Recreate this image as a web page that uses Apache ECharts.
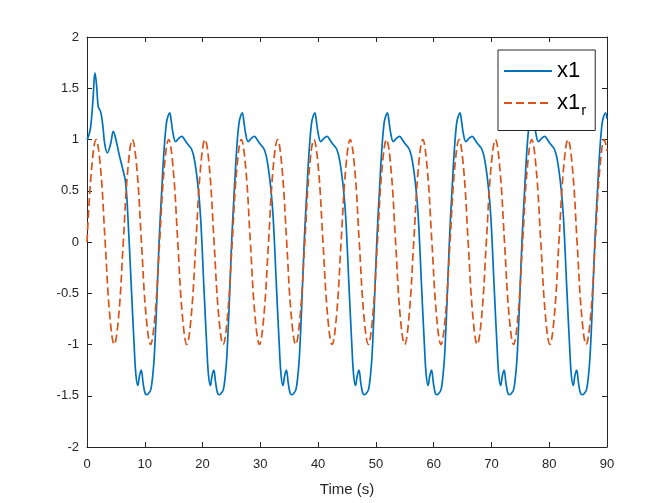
<!DOCTYPE html>
<html>
<head>
<meta charset="utf-8">
<script src="https://cdn.jsdelivr.net/npm/echarts@6/dist/echarts.min.js"></script>
<style>
  html, body { margin: 0; padding: 0; background: #fff; }
  #chart { width: 671px; height: 503px; }
</style>
</head>
<body>
<div id="chart"></div>
<script>
// x1: time (s) and value (transient, then one line per cycle)
const x1Time = [
  0, 0.3, 0.63, 1.04, 1.38, 1.67, 1.95, 2.37, 2.77, 3.06, 3.52, 4.1, 4.56, 4.96, 5.54, 6.1, 6.68, 7.1, 7.68, 8.17, 8.47, 8.8, 9.07, 9.38, 9.72, 10.02,
  10.28, 10.68, 11.04, 11.38, 11.64, 12.04, 12.49, 12.94, 13.34, 13.74, 14.03, 14.31, 14.58, 14.89, 15.34, 15.88, 16.39, 16.88, 17.34, 18.14, 18.69, 19.24, 19.66, 20.24, 20.73, 21.03, 21.36, 21.63, 21.94, 22.28, 22.58,
  22.84, 23.24, 23.6, 23.94, 24.2, 24.6, 25.05, 25.5, 25.9, 26.3, 26.59, 26.87, 27.14, 27.45, 27.9, 28.44, 28.95, 29.44, 29.9, 30.7, 31.25, 31.8, 32.22, 32.8, 33.29, 33.59, 33.92, 34.19, 34.5, 34.84, 35.14,
  35.4, 35.8, 36.16, 36.5, 36.76, 37.16, 37.61, 38.06, 38.46, 38.86, 39.15, 39.43, 39.7, 40.01, 40.46, 41.0, 41.51, 42.0, 42.46, 43.26, 43.81, 44.36, 44.78, 45.36, 45.85, 46.15, 46.48, 46.75, 47.06, 47.4, 47.7,
  47.96, 48.36, 48.72, 49.06, 49.32, 49.72, 50.17, 50.62, 51.02, 51.42, 51.71, 51.99, 52.26, 52.57, 53.02, 53.56, 54.07, 54.56, 55.02, 55.82, 56.37, 56.92, 57.34, 57.92, 58.41, 58.71, 59.04, 59.31, 59.62, 59.96, 60.26,
  60.52, 60.92, 61.28, 61.62, 61.88, 62.28, 62.73, 63.18, 63.58, 63.98, 64.27, 64.55, 64.82, 65.13, 65.58, 66.12, 66.63, 67.12, 67.58, 68.38, 68.93, 69.48, 69.9, 70.48, 70.97, 71.27, 71.6, 71.87, 72.18, 72.52, 72.82,
  73.08, 73.48, 73.84, 74.18, 74.44, 74.84, 75.29, 75.74, 76.14, 76.54, 76.83, 77.11, 77.38, 77.69, 78.14, 78.68, 79.19, 79.68, 80.14, 80.94, 81.49, 82.04, 82.46, 83.04, 83.53, 83.83, 84.16, 84.43, 84.74, 85.08, 85.38,
  85.7, 86.1, 86.46, 86.8, 87.06, 87.46, 87.91, 88.36, 88.76, 89.16, 89.45, 89.73, 90
];
const x1Vals = [
  1.0, 1.04, 1.12, 1.39, 1.65, 1.52, 1.32, 1.27, 1.12, 0.96, 0.87, 0.96, 1.08, 1.01, 0.86, 0.73, 0.58, 0.22, -0.45, -1.02, -1.3, -1.4, -1.31, -1.25, -1.38, -1.47,
  -1.49, -1.475, -1.44, -1.3, -1.12, -0.63, 0.02, 0.51, 0.9, 1.16, 1.23, 1.26, 1.18, 1.06, 0.98, 1.01, 1.03, 1.0, 0.96, 0.9, 0.77, 0.53, 0.24, -0.45, -1.02, -1.3, -1.4, -1.31, -1.25, -1.38, -1.47,
  -1.49, -1.475, -1.44, -1.3, -1.12, -0.63, 0.02, 0.51, 0.9, 1.16, 1.23, 1.26, 1.18, 1.06, 0.98, 1.01, 1.03, 1.0, 0.96, 0.9, 0.77, 0.53, 0.24, -0.45, -1.02, -1.3, -1.4, -1.31, -1.25, -1.38, -1.47,
  -1.49, -1.475, -1.44, -1.3, -1.12, -0.63, 0.02, 0.51, 0.9, 1.16, 1.23, 1.26, 1.18, 1.06, 0.98, 1.01, 1.03, 1.0, 0.96, 0.9, 0.77, 0.53, 0.24, -0.45, -1.02, -1.3, -1.4, -1.31, -1.25, -1.38, -1.47,
  -1.49, -1.475, -1.44, -1.3, -1.12, -0.63, 0.02, 0.51, 0.9, 1.16, 1.23, 1.26, 1.18, 1.06, 0.98, 1.01, 1.03, 1.0, 0.96, 0.9, 0.77, 0.53, 0.24, -0.45, -1.02, -1.3, -1.4, -1.31, -1.25, -1.38, -1.47,
  -1.49, -1.475, -1.44, -1.3, -1.12, -0.63, 0.02, 0.51, 0.9, 1.16, 1.23, 1.26, 1.18, 1.06, 0.98, 1.01, 1.03, 1.0, 0.96, 0.9, 0.77, 0.53, 0.24, -0.45, -1.02, -1.3, -1.4, -1.31, -1.25, -1.38, -1.47,
  -1.49, -1.475, -1.44, -1.3, -1.12, -0.63, 0.02, 0.51, 0.9, 1.16, 1.23, 1.26, 1.18, 1.06, 0.98, 1.01, 1.03, 1.0, 0.96, 0.9, 0.77, 0.53, 0.24, -0.45, -1.02, -1.3, -1.4, -1.31, -1.25, -1.38, -1.47,
  -1.49, -1.475, -1.44, -1.3, -1.12, -0.63, 0.02, 0.51, 0.9, 1.16, 1.23, 1.26, 1.2
];

// x1_r: reference signal, read at its peaks, zero crossings and mid-slopes
const refTime = [
  0, 0.79, 1.57, 2.36, 3.14, 3.93, 4.71, 5.5, 6.28, 7.07, 7.85, 8.64, 9.42, 10.21, 11.0, 11.78,
  12.57, 13.35, 14.14, 14.92, 15.71, 16.49, 17.28, 18.06, 18.85, 19.63, 20.42, 21.21, 21.99, 22.78, 23.56, 24.35,
  25.13, 25.92, 26.7, 27.49, 28.27, 29.06, 29.85, 30.63, 31.42, 32.2, 32.99, 33.77, 34.56, 35.34, 36.13, 36.91,
  37.7, 38.48, 39.27, 40.06, 40.84, 41.63, 42.41, 43.2, 43.98, 44.77, 45.55, 46.34, 47.12, 47.91, 48.69, 49.48,
  50.27, 51.05, 51.84, 52.62, 53.41, 54.19, 54.98, 55.76, 56.55, 57.33, 58.12, 58.9, 59.69, 60.48, 61.26, 62.05,
  62.83, 63.62, 64.4, 65.19, 65.97, 66.76, 67.54, 68.33, 69.12, 69.9, 70.69, 71.47, 72.26, 73.04, 73.83, 74.61,
  75.4, 76.18, 76.97, 77.75, 78.54, 79.33, 80.11, 80.9, 81.68, 82.47, 83.25, 84.04, 84.82, 85.61, 86.39, 87.18,
  87.96, 88.75, 89.54, 90
];
const refVals = [
  0, 0.71, 1, 0.71, 0, -0.71, -1, -0.71, 0, 0.71, 1, 0.71, 0, -0.71, -1, -0.71,
  0, 0.71, 1, 0.71, 0, -0.71, -1, -0.71, 0, 0.71, 1, 0.71, 0, -0.71, -1, -0.71,
  0, 0.71, 1, 0.71, 0, -0.71, -1, -0.71, 0, 0.71, 1, 0.71, 0, -0.71, -1, -0.71,
  0, 0.71, 1, 0.71, 0, -0.71, -1, -0.71, 0, 0.71, 1, 0.71, 0, -0.71, -1, -0.71,
  0, 0.71, 1, 0.71, 0, -0.71, -1, -0.71, 0, 0.71, 1, 0.71, 0, -0.71, -1, -0.71,
  0, 0.71, 1, 0.71, 0, -0.71, -1, -0.71, 0, 0.71, 1, 0.71, 0, -0.71, -1, -0.71,
  0, 0.71, 1, 0.71, 0, -0.71, -1, -0.71, 0, 0.71, 1, 0.71, 0, -0.71, -1, -0.71,
  0, 0.71, 1, 0.89
];

const xTicks = { min: 0, max: 90, interval: 10 };
const yTicks = { min: -2, max: 2, interval: 0.5 };

const axisColor = '#262626';
const fontFamily = '"Liberation Sans", Arial, Helvetica, sans-serif';

const chart = echarts.init(document.getElementById('chart'));

function axisBase(extra) {
  return Object.assign({
    type: 'value',
    axisLine: { show: true, onZero: false, lineStyle: { color: axisColor, width: 1 } },
    axisTick: { show: true, inside: true, length: 5, lineStyle: { color: axisColor } },
    splitLine: { show: false },
    axisLabel: { color: axisColor, fontSize: 13, fontFamily: fontFamily }
  }, extra);
}

const option = {
  animation: false,
  backgroundColor: '#fff',
  grid: { left: 87, top: 37, right: 64, bottom: 56 },
  legend: {
    orient: 'vertical',
    left: 498,
    top: 50,
    padding: [10, 9, 12, 5],
    itemGap: 10,
    itemWidth: 48,
    itemHeight: 16,
    backgroundColor: '#fff',
    borderColor: axisColor,
    borderWidth: 1,
    itemStyle: { opacity: 0 },
    data: ['x1', 'x1r'],
    formatter: name => name === 'x1r' ? 'x1{r|r}' : name,
    textStyle: {
      fontSize: 22,
      color: '#000',
      fontFamily: fontFamily,
      rich: { r: { fontSize: 15, fontFamily: fontFamily, color: '#000', padding: [16, 0, 0, 1] } }
    }
  },
  xAxis: [
    axisBase({
      position: 'bottom', min: xTicks.min, max: xTicks.max, interval: xTicks.interval,
      axisLabel: { color: axisColor, fontSize: 13, fontFamily: fontFamily, margin: 11 },
      name: 'Time (s)', nameLocation: 'middle', nameGap: 35,
      nameTextStyle: { color: axisColor, fontSize: 15, fontFamily: fontFamily }
    }),
    axisBase({
      position: 'top', min: xTicks.min, max: xTicks.max, interval: xTicks.interval,
      axisLabel: { show: false }
    })
  ],
  yAxis: [
    axisBase({ position: 'left', min: yTicks.min, max: yTicks.max, interval: yTicks.interval }),
    axisBase({
      position: 'right', min: yTicks.min, max: yTicks.max, interval: yTicks.interval,
      axisLabel: { show: false }
    })
  ],
  series: [
    {
      name: 'x1',
      type: 'line',
      smooth: 0.4,
      showSymbol: false,
      symbol: 'none',
      lineStyle: { color: '#0072BD', width: 1.7 },
      itemStyle: { color: '#0072BD' },
      data: x1Time.map((t, i) => [t, x1Vals[i]])
    },
    {
      name: 'x1r',
      type: 'line',
      smooth: 0.4,
      showSymbol: false,
      symbol: 'none',
      lineStyle: { color: '#D95319', width: 1.7, type: [8, 4] },
      itemStyle: { color: '#D95319' },
      data: refTime.map((t, i) => [t, refVals[i]])
    }
  ]
};

chart.setOption(option);
</script>
</body>
</html>
